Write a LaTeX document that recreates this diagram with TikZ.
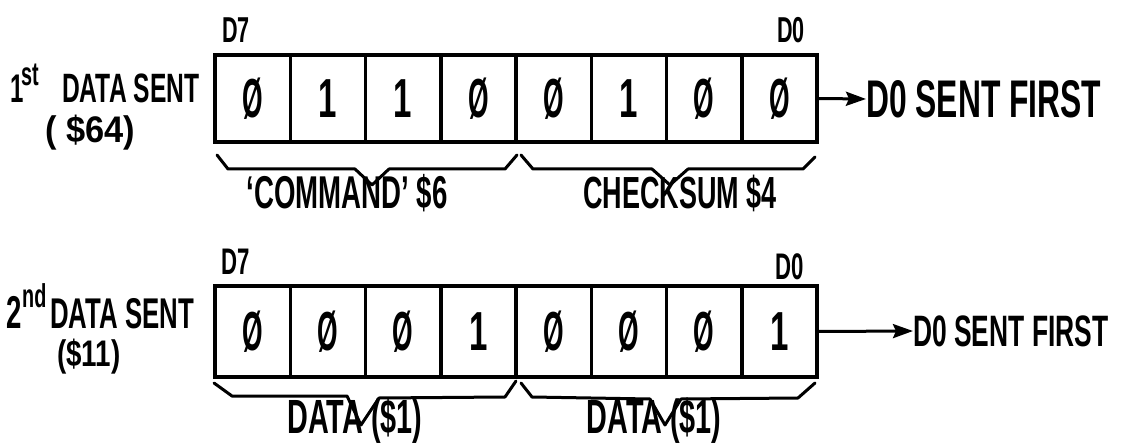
\documentclass[tikz,border=0pt]{standalone}
\usepackage{graphicx}
\usepackage{fontspec}
\setmainfont{Liberation Sans}[FakeStretch=0.6]
\usetikzlibrary{arrows.meta}
\newcommand{\zs}{\scalebox{0.8}[1]{Ø}}
\newcommand{\fs}[1]{\fontsize{#1}{#1}\selectfont\bfseries}
\begin{document}
\begin{tikzpicture}[x=1pt,y=-1pt,
  cell/.style={draw, line width=3.5pt, minimum width=75.25pt, inner sep=0pt, font=\fs{55}, anchor=center},
  lbl/.style={inner sep=0pt, anchor=base west},
  clbl/.style={inner sep=0pt, anchor=base},
  bracepath/.style={line width=3pt, line join=round, line cap=round},
  arr/.style={line width=3pt, -{Stealth[length=20pt, width=14pt, inset=3pt]}}]
\useasboundingbox (0,0) rectangle (1131,446);
\fill[white] (0,0) rectangle (1131,446);
% row 1 cells
\foreach \d [count=\i from 0] in {\zs,1,1,\zs,\zs,1,\zs,\zs}
  \node[cell, minimum height=87pt] (r1c\i) at (252.625+75.25*\i, 98.5) {\d};
% row 2 cells
\foreach \d [count=\i from 0] in {\zs,\zs,\zs,1,\zs,\zs,\zs,1}
  \node[cell, minimum height=91pt] (r2c\i) at (252.625+75.25*\i, 331.5) {\d};
% bit labels
\node[lbl, font=\fs{36}] (d7a) at (222,43) {D7};
\node[lbl, font=\fs{36}] (d0a) at (777,43) {D0};
\node[lbl, font=\fs{37}] (d7b) at (221,274) {D7};
\node[lbl, font=\fs{37}] (d0b) at (775,279) {D0};
% left labels
\node[lbl, font=\fs{40}] (one) at (10,103) {1};
\node[lbl, font=\fs{33}] (st) at (21,86) {st};
\node[lbl, font=\fs{41}] (ds1) at (62,103) {DATA SENT};
\node[lbl, font=\fs{37}] (h1) at (45,143) {\scalebox{1.55}[1]{( \$64)}};
\node[lbl, font=\fs{46}] (two) at (6,328) {2};
\node[lbl, font=\fs{33}] (nd) at (22,307) {nd};
\node[lbl, font=\fs{43}] (ds2) at (50,328) {DATA SENT};
\node[lbl, font=\fs{37}] (h2) at (57,366) {\scalebox{1.25}[1]{(\$11)}};
% right texts and arrows
\node[inner sep=0pt, anchor=west, font=\fs{53}] (t1) at (866,99) {D0 SENT FIRST};
\node[inner sep=0pt, anchor=west, font=\fs{44}] (t2) at (913,331) {D0 SENT FIRST};
\draw[arr] (r1c7.east) -- (t1.west);
\draw[arr] (r2c7.east) -- (t2.west);
% braces row 1
\draw[bracepath] (217,155) -- (228,169) -- (355,169) -- (372,185) -- (389,169) -- (505,169) -- (517,155);
\draw[bracepath] (521,155) -- (533,169) -- (652,169) -- (670,185) -- (688,169) -- (803,169) -- (815,157);
% braces row 2
\draw[bracepath] (214,383) -- (232,396) -- (347,396) -- (361,425) -- (379,398) -- (505,397) -- (516,381);
\draw[bracepath] (521,383) -- (532,397) -- (650,399) -- (665,425) -- (681,399) -- (798,398) -- (815,383);
% brace labels
\node[clbl, font=\fs{46}] (cmd) at (347,209) {`COMMAND' \$6};
\node[clbl, font=\fs{45}] (chk) at (680,209) {CHECKSUM \$4};
\node[clbl, font=\fs{48}] (dat1) at (355,433) {DATA (\$1)};
\node[clbl, font=\fs{48}] (dat2) at (654,433) {DATA (\$1)};
\end{tikzpicture}
\end{document}
